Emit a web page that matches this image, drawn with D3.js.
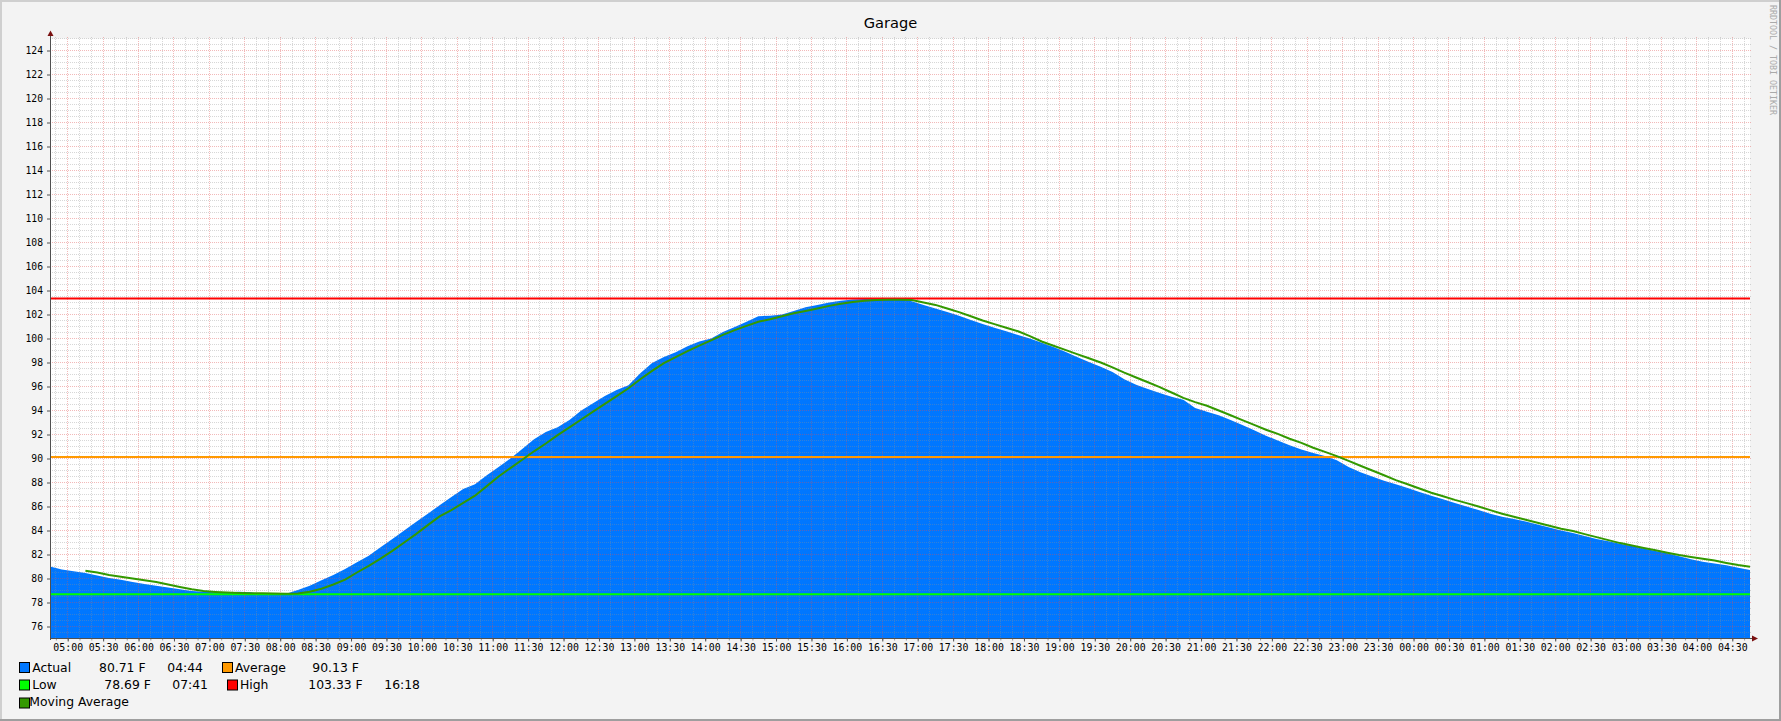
<!DOCTYPE html>
<html>
<head>
<meta charset="utf-8">
<script src="https://cdn.jsdelivr.net/npm/d3@7"></script>
<style>
  html, body { margin: 0; padding: 0; background: #f3f3f3; }
  svg { display: block; }
</style>
</head>
<body>
<script>
// ---------------- DATA ----------------
const title = "Garage";
const graphStart = "04:45";          // left edge of the time axis (previous day)
const sampleStepMinutes = 10;        // spacing of the samples below
// Actual temperature (F), one sample every 10 minutes from 04:45
const actual = [
  81.0, 80.75, 80.6, 80.45, 80.25, 80.05, 79.9, 79.7, 79.55, 79.4,
  79.25, 79.1, 78.95, 78.9, 78.85, 78.83, 78.9, 78.85, 78.69, 78.69,
  78.72, 79.05, 79.4, 79.85, 80.3, 80.8, 81.35, 81.9, 82.6, 83.3,
  84.0, 84.7, 85.4, 86.1, 86.8, 87.45, 87.85, 88.6, 89.3, 90.0,
  90.8, 91.6, 92.2, 92.6, 93.2, 94.0, 94.6, 95.2, 95.7, 96.1,
  97.1, 97.95, 98.45, 98.85, 99.35, 99.75, 100.0, 100.55, 100.95, 101.4,
  101.85, 101.9, 102.0, 102.3, 102.6, 102.8, 103.0, 103.15, 103.25, 103.3,
  103.33, 103.33, 103.3, 103.1, 102.8, 102.5, 102.2, 101.9, 101.55, 101.2,
  100.9, 100.6, 100.3, 100.0, 99.65, 99.3, 98.9, 98.45, 98.05, 97.65,
  97.2, 96.6, 96.15, 95.8, 95.45, 95.15, 94.9, 94.2, 93.9, 93.6,
  93.2, 92.8, 92.35, 91.9, 91.5, 91.1, 90.75, 90.45, 90.2, 89.85,
  89.3, 88.85, 88.5, 88.15, 87.85, 87.55, 87.2, 86.9, 86.6, 86.3,
  86.0, 85.7, 85.4, 85.15, 84.95, 84.75, 84.5, 84.25, 84.0, 83.8,
  83.55, 83.3, 83.1, 82.9, 82.7, 82.5, 82.3, 82.1, 81.85, 81.6,
  81.4, 81.25, 81.1, 80.9, 80.71
];
// Moving average (F), same sample times
const movingAverage = [
  null, null, null, 80.65, 80.5, 80.3, 80.15, 80.0, 79.85, 79.7,
  79.5, 79.3, 79.1, 78.95, 78.88, 78.83, 78.8, 78.78, 78.77, 78.75,
  78.73, 78.75, 78.9, 79.15, 79.5, 79.9, 80.5, 81.05, 81.65, 82.3,
  83.0, 83.7, 84.45, 85.17, 85.7, 86.3, 86.9, 87.7, 88.5, 89.2,
  89.9, 90.6, 91.25, 91.95, 92.6, 93.25, 93.9, 94.55, 95.2, 95.85,
  96.6, 97.3, 97.95, 98.45, 98.95, 99.4, 99.85, 100.3, 100.7, 101.05,
  101.4, 101.6, 101.85, 102.1, 102.3, 102.5, 102.72, 102.9, 103.05, 103.15,
  103.2, 103.22, 103.22, 103.2, 103.0, 102.8, 102.5, 102.2, 101.85, 101.5,
  101.2, 100.9, 100.6, 100.2, 99.75, 99.4, 99.05, 98.7, 98.35, 98.0,
  97.6, 97.15, 96.75, 96.35, 95.95, 95.5, 95.05, 94.7, 94.4, 94.0,
  93.6, 93.2, 92.8, 92.4, 92.05, 91.65, 91.3, 90.9, 90.55, 90.2,
  89.8, 89.4, 89.0, 88.6, 88.2, 87.85, 87.5, 87.15, 86.85, 86.55,
  86.28, 86.0, 85.7, 85.4, 85.15, 84.9, 84.65, 84.4, 84.15, 83.95,
  83.7, 83.45, 83.2, 82.95, 82.75, 82.55, 82.35, 82.15, 81.95, 81.8,
  81.65, 81.5, 81.3, 81.12, 80.98
];
const lowValue = 78.69;
const averageValue = 90.13;
const highValue = 103.33;
const yTickValues = [76, 78, 80, 82, 84, 86, 88, 90, 92, 94, 96, 98, 100, 102, 104, 106, 108, 110, 112, 114, 116, 118, 120, 122, 124];
const yDomain = [75, 125];
// legend
const legendRow1 = ["Actual", "80.71 F", "04:44", "Average", "90.13 F"];
const legendRow2 = ["Low", "78.69 F", "07:41", "High", "103.33 F", "16:18"];
const legendRow3 = ["Moving Average"];
const watermark = "RRDTOOL / TOBI OETIKER";

// ---------------- STYLE ----------------
const colors = {
  back: "#f3f3f3", canvas: "#ffffff",
  actual: "#0077ff", average: "#ff9900", low: "#00ff00", high: "#ff0000", ma: "#339900",
  grid: "rgba(143,143,143,0.36)", mgrid: "rgba(222,80,80,0.4)",
  axis: "#505050", arrow: "#7a1010"
};
const W = 1781, H = 721;
const plot = { left: 50, right: 1750, top: 38.5, bottom: 638.5 };

// ---------------- SCALES ----------------
const [sh, sm] = graphStart.split(":").map(Number);
const t0 = new Date(2024, 0, 1, sh, sm);
const t1 = d3.timeMinute.offset(t0, 1440);
const times = actual.map((_, i) => d3.timeMinute.offset(t0, i * sampleStepMinutes));

const x = d3.scaleTime().domain([t0, t1]).range([plot.left, plot.right]);
const y = d3.scaleLinear().domain(yDomain).range([plot.bottom, plot.top]);

const svg = d3.select("body").append("svg").attr("width", W).attr("height", H);

// background + frame
svg.append("rect").attr("width", W).attr("height", H).attr("fill", colors.back);
svg.append("rect").attr("x", 0).attr("y", 0).attr("width", W).attr("height", 2).attr("fill", "#cfcfcf");
svg.append("rect").attr("x", 0).attr("y", 0).attr("width", 2).attr("height", H).attr("fill", "#cfcfcf");
svg.append("rect").attr("x", 0).attr("y", H - 2).attr("width", W).attr("height", 2).attr("fill", "#9e9e9e");
svg.append("rect").attr("x", W - 2).attr("y", 0).attr("width", 2).attr("height", H).attr("fill", "#9e9e9e");

// canvas
svg.append("rect").attr("x", plot.left).attr("y", plot.top)
  .attr("width", plot.right - plot.left).attr("height", plot.bottom - plot.top)
  .attr("fill", colors.canvas);

// area (Actual)
const area = d3.area()
  .x((d, i) => x(times[i]))
  .y0(y(yDomain[0]))
  .y1(d => y(d))
  .curve(d3.curveLinear);
svg.append("path").datum(actual).attr("d", area).attr("fill", colors.actual);

// grid (drawn over the area, semi-transparent)
const gGrid = svg.append("g").attr("shape-rendering", "crispEdges");
const px = v => Math.floor(v) + 0.5;
const majorTimes = x.ticks(d3.timeMinute.every(30));
const minorTimes = x.ticks(d3.timeMinute.every(10)).filter(t => t.getMinutes() % 30 !== 0);
const minorY = d3.range(yDomain[0], yDomain[1] + 0.001, 0.5).filter(v => v % 2 !== 0);

gGrid.selectAll(".vmin").data(minorTimes).join("line")
  .attr("x1", d => px(x(d))).attr("x2", d => px(x(d)))
  .attr("y1", plot.top - 2).attr("y2", plot.bottom)
  .attr("stroke", colors.grid).attr("stroke-dasharray", "1,1");
gGrid.selectAll(".hmin").data(minorY).join("line")
  .attr("x1", plot.left).attr("x2", plot.right + 2)
  .attr("y1", d => px(y(d))).attr("y2", d => px(y(d)))
  .attr("stroke", colors.grid).attr("stroke-dasharray", "1,1");
gGrid.selectAll(".vmaj").data(majorTimes).join("line")
  .attr("x1", d => px(x(d))).attr("x2", d => px(x(d)))
  .attr("y1", plot.top - 2).attr("y2", plot.bottom)
  .attr("stroke", colors.mgrid).attr("stroke-dasharray", "1,1");
gGrid.selectAll(".hmaj").data(yTickValues).join("line")
  .attr("x1", plot.left).attr("x2", plot.right + 2)
  .attr("y1", d => px(y(d))).attr("y2", d => px(y(d)))
  .attr("stroke", colors.mgrid).attr("stroke-dasharray", "1,1");

// HRULEs
const rules = [[lowValue, colors.low], [averageValue, colors.average], [highValue, colors.high]];
svg.selectAll(".rule").data(rules).join("line")
  .attr("x1", plot.left).attr("x2", plot.right)
  .attr("y1", d => y(d[0])).attr("y2", d => y(d[0]))
  .attr("stroke", d => d[1]).attr("stroke-width", 2);

// moving average line
const maLine = d3.line()
  .defined(d => d != null)
  .x((d, i) => x(times[i]))
  .y(d => y(d));
svg.append("path").datum(movingAverage).attr("d", maLine)
  .attr("fill", "none").attr("stroke", colors.ma).attr("stroke-width", 2);

// axes
const xAxisMinor = d3.axisBottom(x).ticks(d3.timeMinute.every(10)).tickFormat("").tickSize(2).tickSizeOuter(0);
const gxm = svg.append("g").attr("transform", `translate(0,${plot.bottom})`).call(xAxisMinor);
gxm.select(".domain").remove();
gxm.selectAll("line").attr("stroke", "#9a9a9a");

const xAxis = d3.axisBottom(x).ticks(d3.timeMinute.every(30))
  .tickFormat(d3.timeFormat("%H:%M")).tickSize(3).tickPadding(2.5).tickSizeOuter(0);
const gx = svg.append("g").attr("transform", `translate(0,${plot.bottom})`).call(xAxis);
gx.select(".domain").remove();
gx.selectAll("line").attr("stroke", colors.axis);
gx.selectAll("text").attr("font-family", "DejaVu Sans Mono").attr("font-size", 9.9).attr("fill", "#000");

const yAxis = d3.axisLeft(y).tickValues(yTickValues).tickSize(3).tickPadding(4).tickSizeOuter(0);
const gy = svg.append("g").attr("transform", `translate(${plot.left},0)`).call(yAxis);
gy.select(".domain").remove();
gy.selectAll("line").attr("stroke", colors.axis);
gy.selectAll("text").attr("font-family", "DejaVu Sans Mono").attr("font-size", 9.7).attr("fill", "#000");

// axis lines + arrows
svg.append("line").attr("x1", plot.left + 0.5).attr("x2", plot.left + 0.5)
  .attr("y1", plot.bottom + 1).attr("y2", 35).attr("stroke", colors.axis).attr("shape-rendering", "crispEdges");
svg.append("line").attr("x1", plot.left).attr("x2", plot.right + 3)
  .attr("y1", plot.bottom).attr("y2", plot.bottom).attr("stroke", colors.axis).attr("shape-rendering", "crispEdges");
svg.append("path").attr("d", `M${plot.left - 2.5},36 L${plot.left + 3.5},36 L${plot.left + 0.5},30.5 Z`).attr("fill", colors.arrow);
svg.append("path").attr("d", `M${plot.right + 2},${plot.bottom - 3} L${plot.right + 2},${plot.bottom + 3} L${plot.right + 8},${plot.bottom} Z`).attr("fill", colors.arrow);

// title
svg.append("text").attr("x", W / 2).attr("y", 28.3).attr("text-anchor", "middle")
  .attr("font-family", "DejaVu Sans").attr("font-size", 14.6).attr("fill", "#000").text(title);

// watermark
svg.append("text").attr("transform", "translate(1769.5,5) rotate(90)")
  .attr("font-family", "DejaVu Sans Mono").attr("font-size", 8.3).attr("fill", "#aaaaaa").text(watermark);

// legend
const lg = svg.append("g").attr("font-family", "DejaVu Sans").attr("font-size", 12.4).attr("fill", "#000");
function swatch(xp, yp, c) {
  lg.append("rect").attr("x", xp + 0.5).attr("y", yp + 0.5).attr("width", 10).attr("height", 10)
    .attr("fill", c).attr("stroke", "#000").attr("stroke-width", 1);
}
function txt(xp, yp, s) { lg.append("text").attr("x", xp).attr("y", yp).text(s); }
// row 1
swatch(19, 662, colors.actual);
txt(32.3, 671.5, legendRow1[0]);
txt(99, 671.5, legendRow1[1]);
txt(167.3, 671.5, legendRow1[2]);
swatch(222, 662, colors.average);
txt(235, 671.5, legendRow1[3]);
txt(312.3, 671.5, legendRow1[4]);
// row 2
swatch(19, 679.5, colors.low);
txt(32.3, 688.6, legendRow2[0]);
txt(104.3, 688.6, legendRow2[1]);
txt(172.3, 688.6, legendRow2[2]);
swatch(227, 679.5, colors.high);
txt(240, 688.6, legendRow2[3]);
txt(308.3, 688.6, legendRow2[4]);
txt(384.3, 688.6, legendRow2[5]);
// row 3
swatch(19, 697.5, colors.ma);
txt(29.3, 706, legendRow3[0]);
</script>
</body>
</html>
